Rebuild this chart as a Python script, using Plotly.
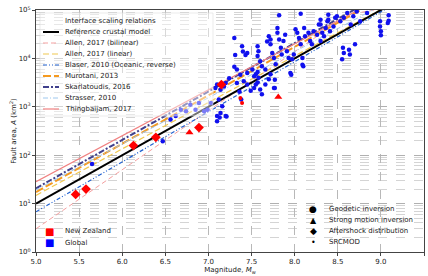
import plotly.graph_objects as go

# ---------------- data ----------------
# Scaling relations: magnitude breakpoints and fault area (km^2)
ref_mag = [5.0, 9.5];            ref_area = [10.0, 316228.0]
allen_bi_mag = [5.0, 8.63, 9.5]; allen_bi_area = [3.02, 81100.0, 149600.0]
allen_lin_mag = [5.0, 9.5];      allen_lin_area = [14.8, 309000.0]
blaser_mag = [5.0, 9.5];         blaser_area = [6.76, 302000.0]
murotani_mag = [5.0, 9.5];       murotani_area = [17.3, 546000.0]
skarl_mag = [5.0, 9.5];          skarl_area = [20.7, 653000.0]
strasser_mag = [5.0, 9.5];       strasser_area = [19.2, 369800.0]
thing_mag = [5.0, 9.5];          thing_area = [28.4, 529700.0]

# New Zealand events (log10 area, km^2)
nz_diamond_mag = [5.46, 5.58, 6.13, 6.39, 6.89, 7.15]
nz_diamond_loga = [1.19, 1.30, 2.20, 2.37, 2.57, 3.46]
nz_triangle_mag = [6.78, 7.81]
nz_triangle_loga = [2.47, 3.20]
nz_dot_mag = [7.37, 7.39]
nz_dot_loga = [3.18, 3.08]

# Global events (log10 area, km^2)
global_mag = [
    7.82, 8.30, 8.30, 8.39, 8.39, 8.49, 8.61, 8.72, 8.84, 8.07,
    7.57, 7.58, 7.57, 7.60, 7.62, 7.66, 7.68, 7.70, 7.72, 7.72, 7.74, 7.76, 7.78, 7.80, 7.80,
    7.82, 7.84, 7.85, 7.87, 7.89, 7.91, 7.93, 7.95, 7.97, 7.99, 8.01, 8.03, 8.05, 8.07, 8.09,
    8.10, 8.11, 8.12, 8.16, 8.18, 8.20, 8.22, 8.26, 8.28, 8.30, 8.32, 8.34, 8.36, 8.38, 8.41,
    8.45, 8.47, 8.53, 8.57, 8.65, 8.68, 8.76,
    7.49, 7.53, 7.57, 7.60, 7.62, 7.66, 7.70, 7.72, 7.76, 7.55, 7.58,
    8.56, 8.57, 8.55, 8.63, 8.64, 8.70,
    8.99, 8.99, 9.00, 9.00, 9.09, 9.09, 9.08,
    7.30, 7.39, 7.40, 7.43, 7.45, 7.31, 7.30, 7.33, 7.37, 7.41, 7.45, 7.51, 7.53, 7.55, 7.33,
    7.24, 7.20, 7.18, 7.14, 7.10, 7.08, 7.12, 7.16, 7.14, 7.20, 7.10, 7.10, 7.03, 6.99, 6.95,
    6.89, 6.85, 6.79, 6.74, 6.68, 6.62, 6.56, 6.47,
    7.13, 7.21, 7.36, 7.38, 7.45, 7.57, 7.77, 7.77, 7.96, 8.09, 5.65,
]
global_loga = [
    4.89, 4.80, 4.70, 4.90, 4.80, 4.87, 4.94, 4.97, 4.94, 4.92,
    4.25, 4.15, 4.05, 3.94, 3.84, 3.77, 4.35, 4.46, 4.39, 4.29, 4.11, 4.01, 3.88, 4.63, 4.53,
    4.39, 4.22, 4.08, 4.36, 4.49, 4.15, 4.01, 3.70, 3.98, 4.08, 4.60, 4.53, 4.42, 4.29, 4.01,
    3.84, 4.63, 4.46, 4.53, 4.36, 4.29, 4.56, 4.49, 4.70, 4.36, 4.53, 4.46, 4.63, 4.77, 4.56,
    4.66, 4.84, 4.77, 4.84, 4.70, 4.87, 4.77,
    3.33, 3.39, 3.50, 3.36, 3.26, 3.46, 3.57, 3.67, 3.39, 3.67, 3.60,
    4.22, 4.11, 3.98, 4.18, 4.08, 4.29,
    4.77, 4.66, 4.56, 4.48, 4.89, 4.78, 4.73,
    4.42, 4.25, 4.14, 4.07, 4.11, 4.07, 3.83, 3.77, 3.66, 3.53, 3.70, 3.77, 3.63, 3.46, 3.49,
    3.59, 3.49, 3.42, 3.35, 3.46, 3.39, 3.15, 3.01, 2.87, 2.81, 2.81, 2.70, 3.08, 2.94, 2.91,
    3.08, 2.94, 3.04, 2.91, 2.94, 2.81, 2.74, 2.29,
    2.78, 2.80, 3.31, 3.15, 3.46, 3.72, 3.39, 3.56, 3.66, 3.87, 1.82,
]

y_tickvals = [1, 10, 100, 1000, 10000, 100000]
y_ticktext = ["10<sup>0</sup>", "10<sup>1</sup>", "10<sup>2</sup>",
              "10<sup>3</sup>", "10<sup>4</sup>", "10<sup>5</sup>"]
x_tickvals = [5.0, 5.5, 6.0, 6.5, 7.0, 7.5, 8.0, 8.5, 9.0, 9.5]

relations = [
    ("Allen, 2017 (bilinear)", allen_bi_mag, allen_bi_area, "#f4a0a0", 1.0, "5px,3px"),
    ("Allen, 2017 (linear)", allen_lin_mag, allen_lin_area, "#f0c850", 1.2, "6px,3px"),
    ("Blaser, 2010 (Oceanic, reverse)", blaser_mag, blaser_area, "#2060d0", 1.2, "4px,2px,1px,2px,1px,2px"),
    ("Murotani, 2013", murotani_mag, murotani_area, "#f59a20", 2.0, "8px,3px"),
    ("Skarlatoudis, 2016", skarl_mag, skarl_area, "#40408c", 2.0, "6px,2px,2px,2px"),
    ("Strasser, 2010", strasser_mag, strasser_area, "#9ec8ee", 1.0, "5px,2px,1px,2px"),
    ("Thingbaijam, 2017", thing_mag, thing_area, "#f08080", 1.2, "solid"),
]

FONT = "DejaVu Sans"
fig = go.Figure()

for name, m, a, col, w, dash in relations:
    fig.add_trace(go.Scatter(x=m, y=a, mode="lines", name=name,
                             line=dict(color=col, width=w, dash=dash), showlegend=False))
fig.add_trace(go.Scatter(x=ref_mag, y=ref_area, mode="lines", name="Reference crustal model",
                         line=dict(color="black", width=2), showlegend=False))

fig.add_trace(go.Scatter(x=global_mag, y=[10 ** v for v in global_loga], mode="markers",
                         marker=dict(color="#1010ee", size=4.5, symbol="circle"),
                         showlegend=False))
fig.add_trace(go.Scatter(x=nz_dot_mag, y=[10 ** v for v in nz_dot_loga], mode="markers",
                         marker=dict(color="red", size=4, symbol="circle"), showlegend=False))
fig.add_trace(go.Scatter(x=nz_diamond_mag, y=[10 ** v for v in nz_diamond_loga], mode="markers",
                         marker=dict(color="red", size=7.5, symbol="diamond"), showlegend=False))
fig.add_trace(go.Scatter(x=nz_triangle_mag, y=[10 ** v for v in nz_triangle_loga], mode="markers",
                         marker=dict(color="red", size=7, symbol="triangle-up"), showlegend=False))

# ---------------- layout ----------------
W, H = 428, 276
L, R, T, B = 36, 424, 10, 252


def px(x):
    return (x - L) / (R - L)


def py(y):
    return (B - y) / (B - T)


shapes = []
annotations = []

# legend 1 box
shapes.append(dict(type="rect", xref="paper", yref="paper", x0=px(40), x1=px(213), y0=py(116), y1=py(13),
                   fillcolor="rgba(255,255,255,0.45)", line=dict(color="#dddddd", width=0.6)))
annotations.append(dict(text="Interface scaling relations", xref="paper", yref="paper",
                        x=px(63), y=py(21), xanchor="left", yanchor="middle", showarrow=False,
                        font=dict(family=FONT, size=7, color="#222")))
legend_rows = [("Reference crustal model", "black", 2.0, "solid")] + \
    [(n, c, w, d) for n, _, _, c, w, d in relations]
for i, (name, col, w, dash) in enumerate(legend_rows):
    yy = 32 + i * 11
    shapes.append(dict(type="line", xref="paper", yref="paper", x0=px(43), x1=px(59),
                       y0=py(yy), y1=py(yy), line=dict(color=col, width=w, dash=dash)))
    annotations.append(dict(text=name, xref="paper", yref="paper", x=px(63), y=py(yy),
                            xanchor="left", yanchor="middle", showarrow=False,
                            font=dict(family=FONT, size=7, color="#222")))

# legend 2 (region)
for i, (name, col) in enumerate([("New Zealand", "red"), ("Global", "blue")]):
    yy = 231 + i * 11.5
    annotations.append(dict(text="■", xref="paper", yref="paper", x=px(49), y=py(yy),
                            xanchor="center", yanchor="middle", showarrow=False,
                            font=dict(family=FONT, size=10, color=col)))
    annotations.append(dict(text=name, xref="paper", yref="paper", x=px(63), y=py(yy),
                            xanchor="left", yanchor="middle", showarrow=False,
                            font=dict(family=FONT, size=7, color="#222")))

# legend 3 (method)
for i, (name, sym, sz) in enumerate([("Geodetic inversion", "●", 9),
                                     ("Strong motion inversion", "▲", 8),
                                     ("Aftershock distribution", "◆", 9),
                                     ("SRCMOD", "•", 8)]):
    yy = 209 + i * 11
    annotations.append(dict(text=sym, xref="paper", yref="paper", x=px(313), y=py(yy),
                            xanchor="center", yanchor="middle", showarrow=False,
                            font=dict(family=FONT, size=sz, color="black")))
    annotations.append(dict(text=name, xref="paper", yref="paper", x=px(327), y=py(yy),
                            xanchor="left", yanchor="middle", showarrow=False,
                            font=dict(family=FONT, size=7, color="#222")))

fig.update_layout(
    width=W, height=H,
    margin=dict(l=L, r=W - R, t=T, b=H - B),
    paper_bgcolor="white", plot_bgcolor="white",
    showlegend=False,
    font=dict(family=FONT, size=7, color="#222"),
    shapes=shapes, annotations=annotations,
    xaxis=dict(range=[5.0, 9.5], tickvals=x_tickvals, tickformat=".1f", automargin=False,
               showgrid=True, gridcolor="#b8b8b8", griddash="dash", gridwidth=0.6,
               showline=True, linecolor="#444", linewidth=0.8, mirror=True,
               ticks="outside", ticklen=3, tickcolor="#444",
               tickfont=dict(size=7), zeroline=False,
               title=dict(text="Magnitude, <i>M</i><sub>w</sub>", font=dict(size=7), standoff=1)),
    yaxis=dict(type="log", range=[0, 5], tickvals=y_tickvals, ticktext=y_ticktext, automargin=False,
               showgrid=True, gridcolor="#b0b0b0", griddash="dash", gridwidth=0.6,
               minor=dict(dtick="D1", showgrid=True, gridcolor="#d4d4d4", griddash="dash",
                          gridwidth=0.5, ticks=""),
               showline=True, linecolor="#444", linewidth=0.8, mirror=True,
               ticks="outside", ticklen=3, tickcolor="#444",
               tickfont=dict(size=7), zeroline=False,
               title=dict(text="Fault area, <i>A</i> (km<sup>2</sup>)", font=dict(size=7), standoff=1)),
)

fig.write_html(
    "out.html",
    config={"displayModeBar": False},
    post_script="document.body.style.margin='0';document.body.style.overflow='hidden';",
)
